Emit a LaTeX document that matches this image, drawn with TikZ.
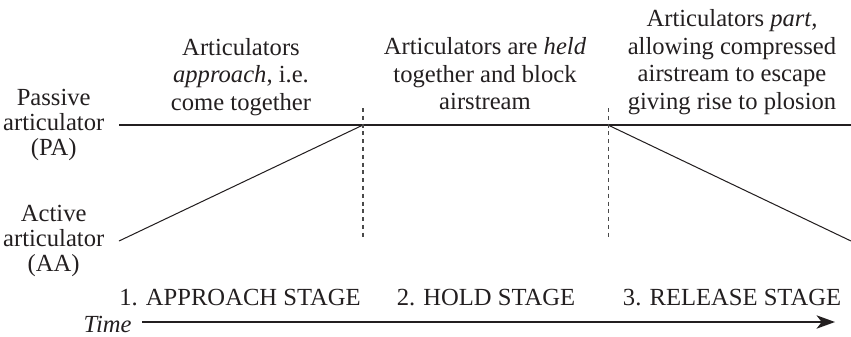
\documentclass[tikz,border=0pt]{standalone}
\usepackage{fontspec}
\setmainfont{Liberation Serif}
\usetikzlibrary{arrows.meta, positioning}
\definecolor{Ink}{HTML}{231F20}
\definecolor{DashGrey}{HTML}{4A4A4A}
\tikzset{
  sidelabel/.style={align=center, inner sep=0pt, text=Ink,
                    font=\fontsize{12}{12}\selectfont},
  notelabel/.style={align=center, inner sep=0pt, text=Ink,
                    font=\fontsize{12}{13.4}\selectfont},
  stagelabel/.style={inner sep=0pt, anchor=base, text=Ink,
                    font=\fontsize{12}{14}\selectfont},
  track/.style={draw=Ink, line width=0.75pt},
  movement/.style={draw=Ink, line width=0.5pt},
  boundary/.style={draw=DashGrey, line width=0.5pt, dash pattern=on 2pt off 1.8pt},
}

\begin{document}
\begin{tikzpicture}[x=0.4877pt, y=-0.4877pt,
    timearr/.style={-{Stealth[length=9pt, width=6.5pt, inset=2.5pt]}, draw=Ink, line width=0.85pt}]
  \useasboundingbox (0,0) rectangle (851,336);
  % articulator tracks
  \coordinate (pa0) at (119,125);
  \coordinate (pa1) at (851,125);
  \coordinate (hold0) at (363,125);
  \coordinate (hold1) at (608,125);
  \coordinate (aa0) at (119,241);
  \coordinate (aa1) at (851,241);
  % stage boundaries
  \coordinate (cutAtop) at (363,108);
  \coordinate (cutAbot) at (363,240);
  \coordinate (cutBtop) at (608,108);
  \coordinate (cutBbot) at (608,240);
  \coordinate (tip) at (835,322);

  \node[sidelabel, left=7pt of pa0] (pa) {Passive\\articulator\\(PA)};
  \node[sidelabel, left=7pt of aa0] (aa) {Active\\articulator\\(AA)};

  \node[notelabel] (approach) at (241,77) {Articulators\\\textit{approach}, i.e.\\come together};
  \node[notelabel] (held) at (485,74) {Articulators are \textit{held}\\together and block\\airstream};
  \node[notelabel] (part) at (732,62) {Articulators \textit{part,}\\allowing compressed\\airstream to escape\\giving rise to plosion};

  \draw[track] (pa0) -- (pa1);
  \draw[movement] (aa0) -- (hold0);
  \draw[movement] (hold1) -- (aa1);
  \draw[boundary] (cutAtop) -- (cutAbot);
  \draw[boundary] (cutBtop) -- (cutBbot);

  \node[stagelabel] (stage1) at (240,305) {1. APPROACH STAGE};
  \node[stagelabel] (stage2) at (486,305) {2. HOLD STAGE};
  \node[stagelabel] (stage3) at (732,305) {3. RELEASE STAGE};

  \node[stagelabel, anchor=base east, font=\fontsize{12}{14}\selectfont\itshape] (time) at (132,332) {Time};
  \draw[timearr, shorten <=5pt] (time.east |- tip) -- (tip);
\end{tikzpicture}
\end{document}
